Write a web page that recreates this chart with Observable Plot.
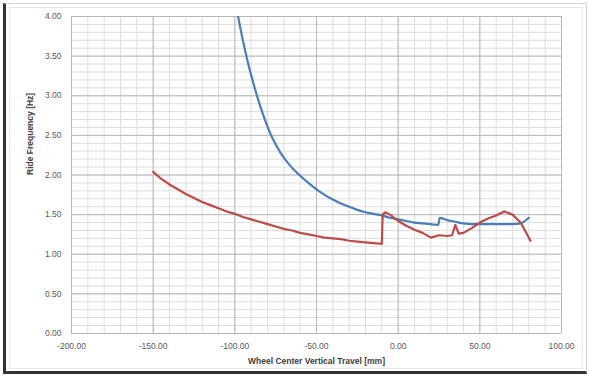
<!DOCTYPE html>
<html>
<head>
<meta charset="utf-8">
<script src="https://cdn.jsdelivr.net/npm/d3@7"></script>
<script src="https://cdn.jsdelivr.net/npm/@observablehq/plot@0.6"></script>
<style>
  html, body { margin: 0; padding: 0; background: #fff; }
  #wrap { position: relative; width: 590px; height: 380px; overflow: hidden; }
  #wrap svg { position: absolute; left: 0; top: 0; }
  .frame { position: absolute; pointer-events: none; }
</style>
</head>
<body>
<div id="wrap">
  <div class="frame" style="left:3px;top:3px;width:584px;height:371px;border-top:1px solid #d0d0d0;border-right:1px solid #d0d0d0;border-left:3px solid #333;border-bottom:3px solid #333;box-sizing:border-box;"></div>
  <div class="frame" style="left:9px;top:7px;width:574px;height:362px;border:1px solid #e6e6e6;box-sizing:border-box;"></div>
</div>
<script>
// Blue series (travel mm, ride frequency Hz)
const blueX = [-98,-96,-94,-92,-90,-88,-86,-84,-82,-80,-78,-76,-74,-72,-70,-68,-66,-64,-62,-60,-55,-50,-45,-40,-35,-30,-25,-20,-15,-10,-5,0,5,10,15,20,24.5,25.5,30,35,40,45,50,55,60,65,70,75,80];
const blueY = [4.00,3.79,3.60,3.42,3.26,3.11,2.97,2.84,2.72,2.61,2.51,2.425,2.35,2.28,2.22,2.165,2.115,2.07,2.03,1.99,1.90,1.82,1.75,1.69,1.64,1.60,1.56,1.53,1.51,1.49,1.46,1.44,1.42,1.40,1.39,1.38,1.37,1.46,1.43,1.41,1.39,1.38,1.38,1.38,1.38,1.38,1.38,1.39,1.46];
// Red series
const redX = [-150,-145,-140,-135,-130,-125,-120,-115,-110,-105,-100,-95,-90,-85,-80,-75,-70,-65,-60,-55,-50,-45,-40,-35,-30,-25,-20,-15,-10,-9.5,-8,-5,0,5,10,15,20,25,30,33,35,37,40,45,50,55,60,65,70,75,81];
const redY = [2.04,1.95,1.88,1.82,1.76,1.71,1.66,1.62,1.58,1.54,1.51,1.47,1.44,1.41,1.38,1.35,1.32,1.30,1.27,1.25,1.23,1.21,1.20,1.19,1.17,1.16,1.15,1.14,1.13,1.50,1.53,1.50,1.42,1.36,1.31,1.27,1.21,1.24,1.23,1.24,1.37,1.26,1.27,1.33,1.40,1.45,1.49,1.54,1.50,1.40,1.17];
// Axis ticks
const xTicks = [-200,-150,-100,-50,0,50,100];
const yTicks = [0,0.5,1,1.5,2,2.5,3,3.5,4];
const xMinor = d3.range(-200, 100.001, 10);
const yMinor = d3.range(0, 40.001, 1).map(v => v / 10);

const blue = blueX.map((x, i) => ({x, y: blueY[i]}));
const red = redX.map((x, i) => ({x, y: redY[i]}));
const fmt = d => d.toFixed(2);

const chart = Plot.plot({
  width: 590,
  height: 380,
  marginLeft: 71,
  marginRight: 29,
  marginTop: 16,
  marginBottom: 47,
  style: {fontFamily: "'Liberation Sans', Arial, sans-serif", fontSize: "8.5px", color: "#595959", background: "transparent"},
  x: {domain: [-200, 100], label: null},
  y: {domain: [0, 4], label: null},
  marks: [
    Plot.ruleX(xMinor, {stroke: "#dedede", strokeWidth: 1}),
    Plot.ruleY(yMinor, {stroke: "#dedede", strokeWidth: 1}),
    Plot.ruleX(xTicks, {stroke: "#b8b8b8", strokeWidth: 1}),
    Plot.ruleY(yTicks, {stroke: "#b8b8b8", strokeWidth: 1}),
    Plot.axisX({ticks: xTicks, tickFormat: fmt, tickSize: 0, tickPadding: 9, label: null}),
    Plot.axisY({ticks: yTicks, tickFormat: fmt, tickSize: 0, tickPadding: 10, label: null}),
    Plot.line(blue, {x: "x", y: "y", stroke: "#4a7ebb", strokeWidth: 2.2, curve: "monotone-x", clip: true}),
    Plot.line(red, {x: "x", y: "y", stroke: "#be4b48", strokeWidth: 2.2}),
    Plot.text(["Wheel Center Vertical Travel [mm]"], {frameAnchor: "bottom", dy: 30, text: d => d, fontWeight: "bold", fontSize: 8.5, fill: "#404040"}),
    Plot.text(["Ride Frequency [Hz]"], {frameAnchor: "left", dx: -41, rotate: -90, text: d => d, fontWeight: "bold", fontSize: 8.5, fill: "#404040"})
  ]
});
document.getElementById("wrap").prepend(chart);
</script>
</body>
</html>
